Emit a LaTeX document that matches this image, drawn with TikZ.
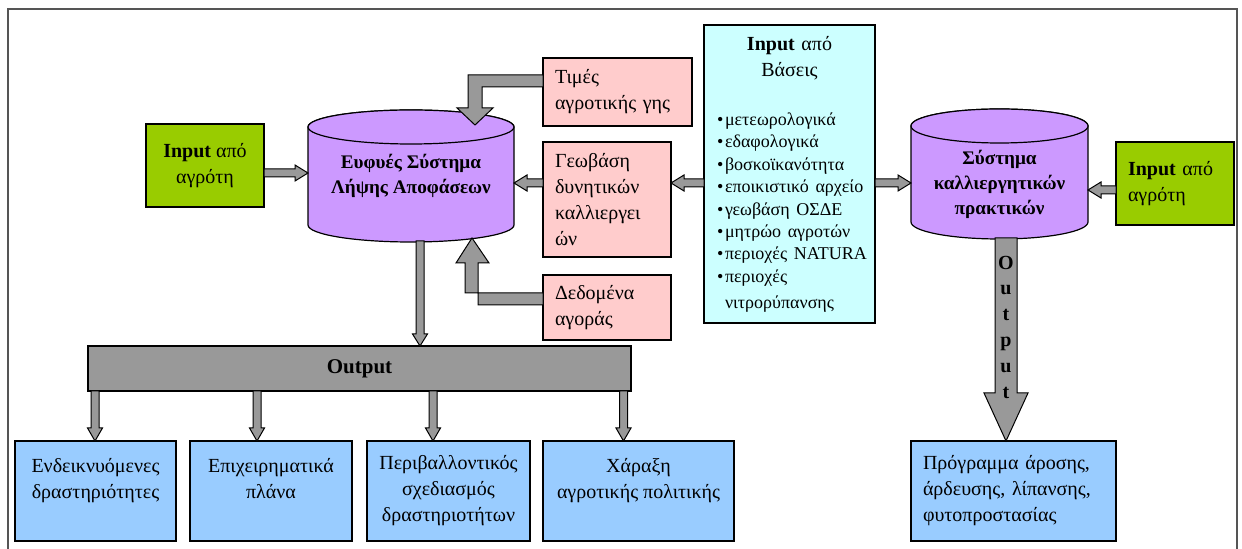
\documentclass[tikz,border=0pt]{standalone}
\usepackage{fontspec}
\setmainfont{Liberation Serif}
\usetikzlibrary{calc}
\usetikzlibrary{backgrounds}
\definecolor{farmgreen}{HTML}{99CC00}
\definecolor{cylpurple}{HTML}{CC99FF}
\definecolor{srcpink}{HTML}{FFCCCC}
\definecolor{dbcyan}{HTML}{CCFFFF}
\definecolor{outblue}{HTML}{99CCFF}
\definecolor{arrowgray}{HTML}{999999}
\definecolor{framegray}{HTML}{555555}

% block arrow: from, to, half shaft, half head, head length
\newcommand{\fatarrow}[5]{%
  \coordinate (fa-h) at ($(#2)!#5!(#1)$);
  \draw[fat] ($(#1)!#3!90:(#2)$) -- ($(fa-h)!#3!90:(#2)$) -- ($(fa-h)!#4!90:(#2)$)
    -- (#2) -- ($(fa-h)!#4!-90:(#2)$) -- ($(fa-h)!#3!-90:(#2)$) -- ($(#1)!#3!-90:(#2)$) -- cycle;}
% cylinder round a node: node, half width
\newcommand{\cylshape}[2]{%
  \filldraw[cyl] (#1.north west) -- (#1.south west)
    arc[start angle=180, end angle=360, x radius=#2, y radius=8.5pt] -- (#1.north east)
    arc[start angle=0, end angle=180, x radius=#2, y radius=8.5pt] -- cycle;
  \draw[cyl] (#1.north) ellipse[x radius=#2, y radius=8.5pt];}
\newcommand{\blt}[1]{\hspace*{2.5pt}\makebox[4pt][l]{\textbullet}\mbox{#1}}

\begin{document}
\begin{tikzpicture}[x=0.5pt, y=-0.5pt,
    box/.style={draw=black, line width=0.6pt, outer sep=0pt, inner xsep=6pt, inner ysep=0pt,
      font=\fontsize{10}{13}\selectfont},
    greenbox/.style={box, fill=farmgreen, minimum width=59pt, minimum height=41.5pt},
    pinkbox/.style={box, fill=srcpink, align=left},
    bluebox/.style={box, fill=outblue, minimum height=50pt, align=center},
    cylnode/.style={outer sep=0pt, inner sep=0pt, align=center,
      font=\fontsize{9.6}{12.5}\selectfont\bfseries},
    cyl/.style={draw=black, line width=0.6pt, fill=cylpurple},
    fat/.style={draw=black, line width=0.5pt, fill=arrowgray, line join=miter}]
  \useasboundingbox (0,0) rectangle (1242,549);
  \draw[framegray, line width=1pt] (8,549) -- (8,9) -- (1237,9) -- (1237,549);

  % sources
  \node[greenbox, align=center] (farmerA) at (205,165.5) {\textbf{Input} από\\αγρότη};
  \node[cylnode, minimum width=103pt, minimum height=49pt] (dss) at (411,176)
    {Ευφυές Σύστημα\\Λήψης Αποφάσεων};
  \node[pinkbox, text width=62.5pt, minimum height=34pt] (prices) at (617.5,92)
    {Τιμές\\αγροτικής γης};
  \node[pinkbox, text width=52pt, minimum height=57.5pt] (geodb) at (607,199.5)
    {Γεωβάση\\δυνητικών\\καλλιεργει\\ών};
  \node[pinkbox, text width=52pt, minimum height=32.5pt] (market) at (607,307.5)
    {Δεδομένα\\αγοράς};
  \node[box, fill=dbcyan, inner xsep=4pt, text width=77.5pt, minimum height=149pt] (bases)
    at (789.5,174)
    {{\centering\textbf{Input} από\\Βάσεις\par}\vspace{13.5pt}
     \raggedright\fontsize{9}{11.2}\selectfont
     \blt{μετεωρολογικά}\\ \blt{εδαφολογικά}\\ \blt{βοσκοϊκανότητα}\\
     \blt{εποικιστικό αρχείο}\\ \blt{γεωβάση ΟΣΔΕ}\\ \blt{μητρώο αγροτών}\\
     \blt{περιοχές NATURA}\\ \blt{περιοχές}\\ \hspace*{6.5pt}νιτρορύπανσης};
  \node[cylnode, minimum width=88.5pt, minimum height=48pt] (cropsys) at (999.5,174) {};
  \node[cylnode] (cropsystext) at (999.5,184) {Σύστημα\\καλλιεργητικών\\πρακτικών};
  \node[greenbox, align=left, text width=47pt] (farmerB) at (1175,183.5)
    {\textbf{Input} από\\αγρότη};

  % outputs
  \node[box, fill=arrowgray, minimum width=271.5pt, minimum height=22.5pt,
    font=\fontsize{10.5}{13}\selectfont\bfseries] (output) at (359.5,368.5) {Output};
  \node[bluebox, minimum width=80.5pt] (act) at (95.5,491)
    {Ενδεικνυόμενες\\δραστηριότητες\\~};
  \node[bluebox, minimum width=81pt] (bizplan) at (271,491) {Επιχειρηματικά\\πλάνα\\~};
  \node[bluebox, minimum width=81.5pt] (envplan) at (448.5,491)
    {Περιβαλλοντικός\\σχεδιασμός\\δραστηριοτήτων};
  \node[bluebox, minimum width=95.5pt] (policy) at (638.5,491)
    {Χάραξη\\αγροτικής πολιτικής\\~};
  \node[bluebox, align=left, text width=90.5pt] (cropplan) at (1013.5,491)
    {Πρόγραμμα άροσης,\\άρδευσης, λίπανσης,\\φυτοπροστασίας};

  \begin{scope}[on background layer]
    \cylshape{dss}{51.5pt}
    \cylshape{cropsys}{44.25pt}
  \end{scope}

  % small arrows
  \coordinate (fa1) at ($(farmerA.east)+(0,7.5)$);
  \coordinate (fa2) at (fa1 -| dss.west);
  \fatarrow{fa1}{fa2}{2pt}{4pt}{6.5pt}
  \coordinate (ba1) at ($(bases.west)+(0,9)$);
  \coordinate (ba2) at (ba1 -| geodb.east);
  \fatarrow{ba1}{ba2}{2pt}{4pt}{6.5pt}
  \coordinate (ga1) at (ba1 -| geodb.west);
  \coordinate (ga2) at (ba1 -| dss.east);
  \fatarrow{ga1}{ga2}{2pt}{4pt}{6.5pt}
  \coordinate (bb1) at ($(bases.east)+(0,9)$);
  \coordinate (bb2) at (bb1 -| cropsys.west);
  \fatarrow{bb1}{bb2}{2pt}{4pt}{6.5pt}
  \coordinate (fb1) at ($(farmerB.west)+(0,6.5)$);
  \coordinate (fb2) at (fb1 -| cropsys.east);
  \fatarrow{fb1}{fb2}{2pt}{4pt}{6.5pt}
  \coordinate (dssout) at (420,241);
  \coordinate (outin) at (dssout |- output.north);
  \fatarrow{dssout}{outin}{2pt}{3.75pt}{6pt}
  \foreach \name/\dx in {act/-0.5, bizplan/-14, envplan/-15.5, policy/-15} {
    \coordinate (bt) at ($(\name.north)+(\dx,0)$);
    \coordinate (bs) at (bt |- output.south);
    \fatarrow{bs}{bt}{2pt}{3.75pt}{6.5pt}
  }

  % elbow arrows into the decision system
  \coordinate (dsstop) at (475,125);
  \draw[fat] ($(prices.west)+(0,-17)$) -- (468,75) -- (468,108) -- (457,108) -- (dsstop)
    -- (493,108) -- (482,108) -- (482,87) -- ($(prices.west)+(0,-5)$) -- cycle;
  \coordinate (dssbot) at (472,238);
  \draw[fat] ($(market.west)+(0,-14.5)$) -- (465,293) -- (465,263) -- (456,263) -- (dssbot)
    -- (489,263) -- (478,263) -- (478,305) -- ($(market.west)+(0,-2.5)$) -- cycle;

  % output of the crop system
  \coordinate (cropout) at (1006,238);
  \coordinate (planin) at (cropout |- cropplan.north);
  \fatarrow{cropout}{planin}{5.5pt}{11pt}{24pt}
  \node[align=center, font=\fontsize{10}{12.9}\selectfont\bfseries] (outlabel) at (1006,327)
    {O\\u\\t\\p\\u\\t};
\end{tikzpicture}
\end{document}
